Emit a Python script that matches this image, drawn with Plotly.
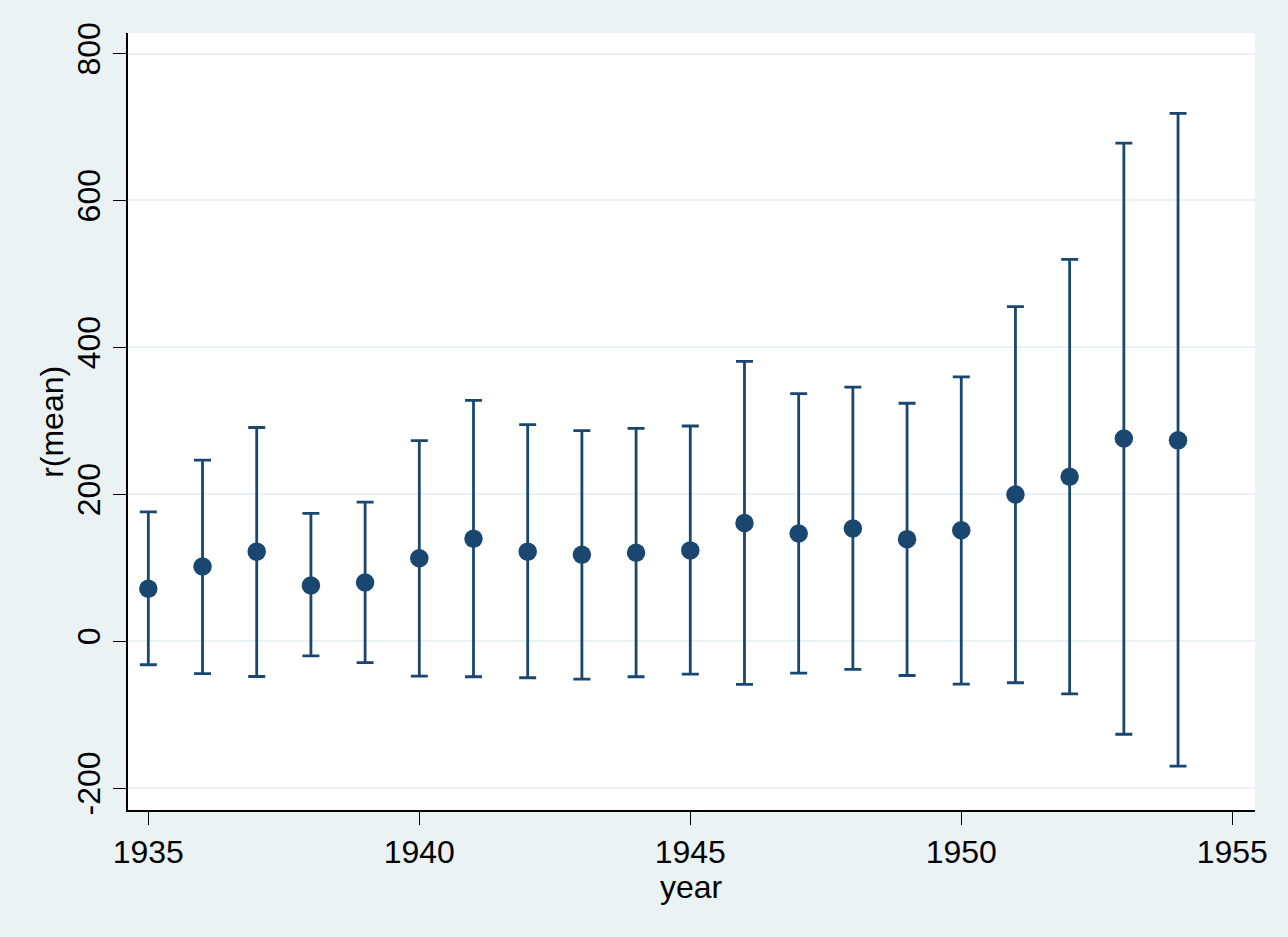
import plotly.graph_objects as go

years = list(range(1935, 1955))
mean_r = [71.5, 101.7, 122, 76, 80, 113, 139.5, 122, 117.8, 120.5,
          123.7, 160.9, 146.8, 153.5, 139, 151, 199.7, 224, 276, 273.5]
upper_r = [176, 246.5, 291, 174, 189.5, 273, 328, 295, 286.6, 289.7,
           293, 381, 337, 346, 324, 360, 455.4, 519.8, 678, 718.6]
lower_r = [-32, -44, -48, -20, -29, -47.5, -48.3, -49.7, -51.5, -48.3,
           -44.7, -58.8, -43.3, -38.4, -46.6, -58.4, -56.5, -71.6, -126.6, -170]

x_ticks = [1935, 1940, 1945, 1950, 1955]
y_ticks = [-200, 0, 200, 400, 600, 800]

navy = "#1A476F"
bg = "#EAF2F3"
font_family = "Liberation Sans, Arial, sans-serif"

err_plus = [u - m for u, m in zip(upper_r, mean_r)]
err_minus = [m - l for m, l in zip(mean_r, lower_r)]

fig = go.Figure()
fig.add_trace(go.Scatter(
    x=years, y=mean_r, mode="markers",
    marker=dict(color=navy, size=18.5, line=dict(width=0)),
    error_y=dict(type="data", symmetric=False, array=err_plus, arrayminus=err_minus,
                 color=navy, thickness=2.8, width=8.5),
    showlegend=False,
))

fig.update_layout(
    width=1288, height=937,
    margin=dict(l=128, r=33, t=33, b=127, autoexpand=False),
    paper_bgcolor=bg, plot_bgcolor="white",
    font=dict(family=font_family, size=32, color="black"),
    xaxis=dict(
        range=[1934.625, 1955.42], tickvals=x_ticks, ticktext=[str(v) for v in x_ticks],
        showgrid=False, zeroline=False,
        showline=True, linecolor="black", linewidth=1.5,
        ticks="outside", ticklen=13, tickwidth=1.2, tickcolor="black",
        tickfont=dict(size=32),
    ),
    yaxis=dict(
        range=[-229.7, 828], tickvals=y_ticks, ticktext=[str(v) for v in y_ticks],
        showgrid=True, gridcolor=bg, gridwidth=1.5, zeroline=False,
        showline=True, linecolor="black", linewidth=1.5,
        ticks="outside", ticklen=13, tickwidth=1.2, tickcolor="black",
        tickangle=-90,
        tickfont=dict(size=32),
    ),
    annotations=[
        dict(text="year", xref="paper", yref="paper", x=0.5, y=-0.0995,
             xanchor="center", yanchor="middle", showarrow=False,
             font=dict(size=32, color="black")),
        dict(text="r(mean)", xref="paper", yref="paper", x=-0.068, y=0.5,
             xanchor="center", yanchor="middle", textangle=-90, showarrow=False,
             font=dict(size=32, color="black")),
    ],
)

fig.write_html("out.html")
